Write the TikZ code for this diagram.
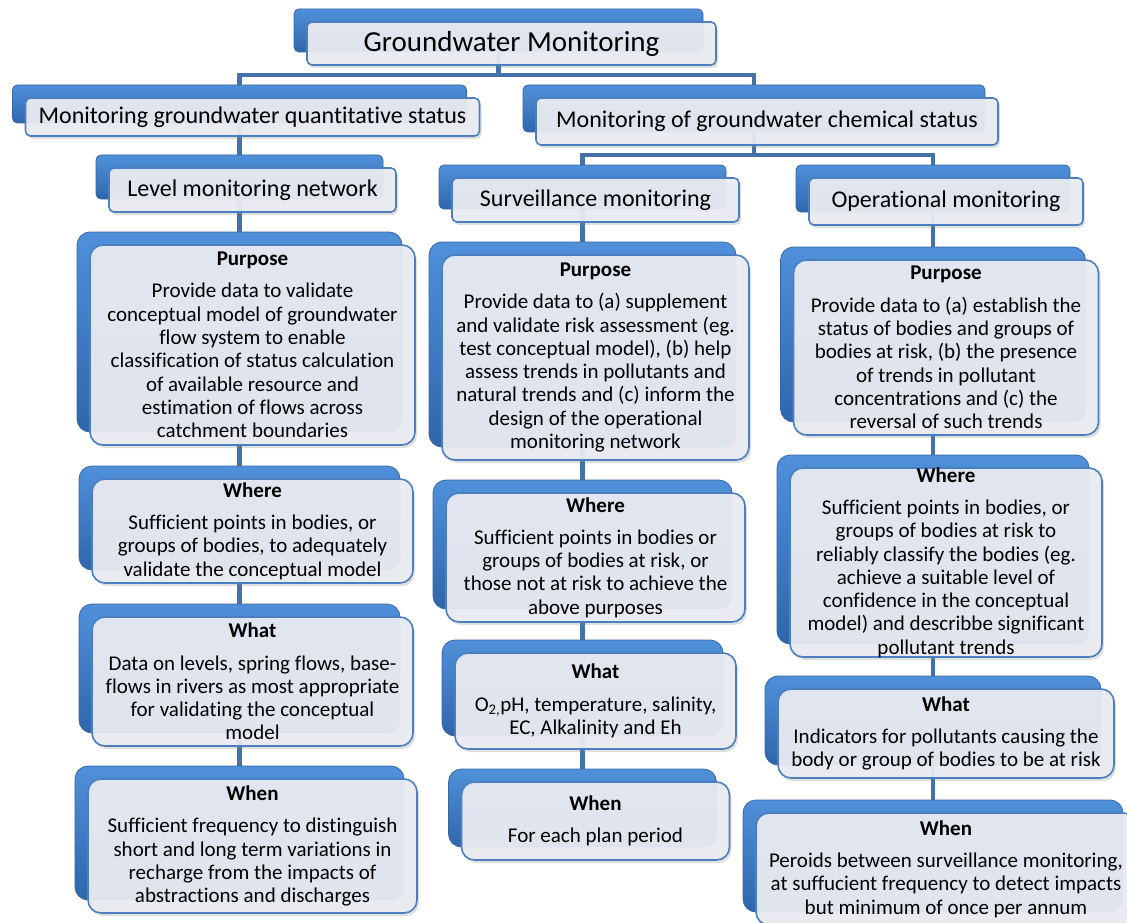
\documentclass[tikz,border=0pt]{standalone}
\usepackage{fontspec}
\setmainfont{Carlito}[Ligatures=NoCommon]
\usetikzlibrary{shadows,backgrounds}
\definecolor{conncol}{HTML}{4472A8}
\definecolor{bluetop}{HTML}{5090DA}
\definecolor{bluebot}{HTML}{2F66AC}
\definecolor{blueedge}{HTML}{36669F}
\definecolor{frontfill}{HTML}{EBEDF3}
\definecolor{frontedge}{HTML}{4C7FBF}
\newcommand\hd[1]{\textbf{#1}\\[9pt]}
\newcommand\lvl{\fontsize{24}{28}\selectfont}
\newcommand\gwbox[7]{%
  \node[backbox, minimum width=#4pt, minimum height=#5pt, #6] (#1B) at (#2,#3) {};
  \node[frontbox, minimum width=#4pt, minimum height=#5pt, #6] (#1) at ([shift={(13,13)}]#1B.center) {};
  \node[txt] (#1T) at (#1.center) {#7};
}
\begin{document}
\begin{tikzpicture}[x=1pt,y=-1pt,
  backbox/.style={rounded corners=5pt, top color=bluetop, bottom color=bluebot, draw=blueedge, line width=0.8pt, inner sep=0pt, outer sep=0pt},
  frontbox/.style={rounded corners=5pt, draw=frontedge, line width=1.6pt, fill=frontfill, fill opacity=0.93, inner sep=0pt, outer sep=0pt,
     drop shadow={shadow xshift=2pt, shadow yshift=-3pt, opacity=0.25}},
  big/.style={rounded corners=13pt},
  txt/.style={align=center, inner sep=0pt, font=\fontsize{21}{23.3}\selectfont},
  conn/.style={draw=conncol, line width=4.5pt}]
\useasboundingbox (0,0) rectangle (1127,923);

\gwbox{title}{498.5}{30.5}{409}{43}{}{\fontsize{29}{33}\selectfont Groundwater Monitoring}
\gwbox{quant}{239.5}{104}{454}{38}{}{\lvl Monitoring groundwater quantitative status}
\gwbox{chem}{754}{108.5}{462}{47}{}{\lvl Monitoring of groundwater chemical status}
\gwbox{level}{239.5}{177}{287}{44}{}{\lvl Level monitoring network}
\gwbox{surv}{582.5}{187}{287}{44}{}{\lvl Surveillance monitoring}
\gwbox{oper}{933}{188.5}{274}{47}{}{\lvl Operational monitoring}

\gwbox{lpurp}{239.5}{332}{325}{200}{big}{\hd{Purpose}Provide data to validate\\conceptual model of groundwater\\flow system to enable\\classification of status calculation\\of available resource and\\estimation of flows across\\catchment boundaries}
\gwbox{spurp}{582.5}{344.5}{307}{205}{big}{\hd{Purpose}Provide data to (a) supplement\\and validate risk assessment (eg.\\test conceptual model), (b) help\\assess trends in pollutants and\\natural trends and (c) inform the\\design of the operational\\monitoring network}
\gwbox{opurp}{933}{334.5}{305}{175}{big}{\hd{Purpose}Provide data to (a) establish the\\status of bodies and groups of\\bodies at risk, (b) the presence\\of trends in pollutant\\concentrations and (c) the\\reversal of such trends}

\gwbox{lwhere}{239.5}{518}{321}{104}{big}{\hd{Where}Sufficient points in bodies, or\\groups of bodies, to adequately\\validate the conceptual model}
\gwbox{lwhat}{239.5}{668.5}{321}{129}{big}{\hd{What}Data on levels, spring flows, base-\\flows in rivers as most appropriate\\for validating the conceptual\\model}
\gwbox{lwhen}{239.5}{833}{329}{134}{big}{\hd{When}Sufficient frequency to distinguish\\short and long term variations in\\recharge from the impacts of\\abstractions and discharges}

\gwbox{swhere}{582.5}{544.5}{299}{129}{big}{\hd{Where}Sufficient points in bodies or\\groups of bodies at risk, or\\those not at risk to achieve the\\above purposes}
\gwbox{swhat}{582.5}{688}{281}{96}{big}{\hd{What}O\textsubscript{2,}pH, temperature, salinity,\\EC, Alkalinity and Eh}
\gwbox{swhen}{582.5}{808}{268}{78}{big}{\hd{When}For each plan period}

\gwbox{owhere}{933}{549.5}{312}{189}{big}{\hd{Where}Sufficient points in bodies, or\\groups of bodies at risk to\\reliably classify the bodies (eg.\\achieve a suitable level of\\confidence in the conceptual\\model) and describbe significant\\pollutant trends}
\gwbox{owhat}{933}{720.5}{336}{89}{big}{\hd{What}Indicators for pollutants causing the\\body or group of bodies to be at risk}
\gwbox{owhen}{933}{856}{380}{112}{big}{\hd{When}Peroids between surveillance monitoring,\\at suffucient frequency to detect impacts\\but minimum of once per annum}

\begin{scope}[on background layer]
  \coordinate (j1) at (498.5,75);
  \coordinate (j2) at (754,155);
  \draw[conn] (titleB.center) -- (j1);
  \draw[conn] (quantB.center) |- (j1) -| (chemB.center);
  \draw[conn] (chemB.center) -- (j2);
  \draw[conn] (survB.center) |- (j2) -| (operB.center);
  \draw[conn] (quantB.center) -- (lwhenB.center);
  \draw[conn] (survB.center) -- (swhenB.center);
  \draw[conn] (operB.center) -- (owhenB.center);
\end{scope}
\end{tikzpicture}
\end{document}
